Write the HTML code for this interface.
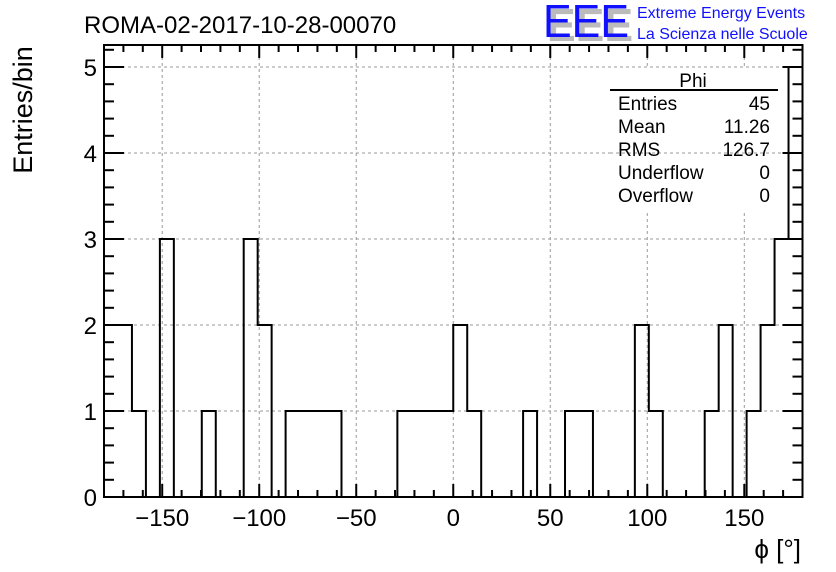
<!DOCTYPE html>
<html><head><meta charset="utf-8"><style>
body{margin:0;background:#fff}
svg{display:block;font-family:"Liberation Sans",Arial,sans-serif}
</style></head><body>
<svg id="chart" width="836" height="572" viewBox="0 0 836 572">
<rect width="836" height="572" fill="#fff"/>
<g id="grid"></g>
<g id="statsbox">
<rect x="610" y="68" width="176" height="142" fill="#fff"/>
<line x1="610" y1="153" x2="786" y2="153" stroke="#999" stroke-dasharray="3,3"/>
<text x="693" y="87" font-size="19" text-anchor="middle">Phi</text>
<line x1="610" y1="90" x2="778" y2="90" stroke="#000" stroke-width="2"/>
<g font-size="19">
<text x="618" y="110">Entries</text><text x="770" y="110" text-anchor="end">45</text>
<text x="618" y="133">Mean</text><text x="770" y="133" text-anchor="end">11.26</text>
<text x="618" y="156">RMS</text><text x="770" y="156" text-anchor="end">126.7</text>
<text x="618" y="179">Underflow</text><text x="770" y="179" text-anchor="end">0</text>
<text x="618" y="202">Overflow</text><text x="770" y="202" text-anchor="end">0</text>
</g></g>
<path id="hist" fill="none" stroke="#000" stroke-width="2"/>
<g id="axes"></g>
<text x="84" y="33" font-size="24">ROMA-02-2017-10-28-00070</text>
<text transform="translate(32,110) rotate(-90)" font-size="27" text-anchor="middle">Entries/bin</text>
<text x="801" y="558" font-size="26" text-anchor="end">ϕ [°]</text>
<g>
<text x="547" y="41" font-size="46" fill="#bbb" font-weight="bold" textLength="86" lengthAdjust="spacingAndGlyphs">EEE</text>
<text x="543" y="37" font-size="46" fill="#1010ff" textLength="86" lengthAdjust="spacingAndGlyphs">EEE</text>
<text x="637" y="18" font-size="16" fill="#1010ff">Extreme Energy Events</text>
<text x="637" y="39" font-size="16" fill="#1010ff">La Scienza nelle Scuole</text>
</g>
</svg>
<script>
const counts=[2,2,1,0,3,0,0,1,0,0,3,2,0,1,1,1,1,0,0,0,0,1,1,1,1,2,1,0,0,0,1,0,0,1,1,0,0,0,2,1,0,0,0,1,2,0,1,2,3,5];
const xRange=[-180,180];
const yRange=[0,5.4];
const xTickLabels=[-150,-100,-50,0,50,100,150];
const yTickLabels=[0,1,2,3,4,5];

const L=104,R=802.5,T=45,B=497;
const sx=v=>L+(v-xRange[0])/(xRange[1]-xRange[0])*(R-L);
const sy=v=>B-v*86;
const NS="http://www.w3.org/2000/svg";
function mk(tag,attrs,parent){const e=document.createElementNS(NS,tag);for(const k in attrs)e.setAttribute(k,attrs[k]);parent.appendChild(e);return e;}
const grid=document.getElementById('grid'),axes=document.getElementById('axes');
xTickLabels.forEach(v=>{const l=mk('line',{x1:sx(v),x2:sx(v),y1:T,y2:B,stroke:'#999','stroke-dasharray':'3,3'},grid);

});
yTickLabels.slice(1).forEach(v=>{const l=mk('line',{x1:L,x2:R,y1:sy(v),y2:sy(v),stroke:'#999','stroke-dasharray':'3,3'},grid);

});
const bw=(xRange[1]-xRange[0])/counts.length;
let d='M'+sx(xRange[0])+','+sy(0);
counts.forEach((c,i)=>{const x0=sx(xRange[0]+i*bw),x1=sx(xRange[0]+(i+1)*bw);d+=' L'+x0+','+sy(c)+' L'+x1+','+sy(c);});
d+=' L'+sx(xRange[1])+','+sy(0);
document.getElementById('hist').setAttribute('d',d);
const fr=mk('rect',{x:L,y:T,width:R-L,height:B-T,fill:'none',stroke:'#000','stroke-width':2},axes);


for(let v=-180;v<=180;v+=10){const maj=v%50===0;const len=maj?13:7;
mk('line',{x1:sx(v),x2:sx(v),y1:B,y2:B-len,stroke:'#000','stroke-width':2},axes);
mk('line',{x1:sx(v),x2:sx(v),y1:T,y2:T+len,stroke:'#000','stroke-width':2},axes);}
xTickLabels.forEach(v=>{const t=mk('text',{x:sx(v),y:526,'font-size':24,'text-anchor':'middle'},axes);
t.textContent=(v<0?'\u2212'+(-v):String(v));

});
for(let k=0;k<=27;k++){const v=k*0.2;if(sy(v)<T)break;const maj=k%5===0;const len=maj?20:10;
mk('line',{x1:L,x2:L+len,y1:sy(v),y2:sy(v),stroke:'#000','stroke-width':2},axes);
mk('line',{x1:R,x2:R-len,y1:sy(v),y2:sy(v),stroke:'#000','stroke-width':2},axes);}
yTickLabels.forEach(v=>{const t=mk('text',{x:97,y:sy(v)+9,'font-size':24,'text-anchor':'end'},axes);
t.textContent=String(v);

});
</script>
</body></html>
